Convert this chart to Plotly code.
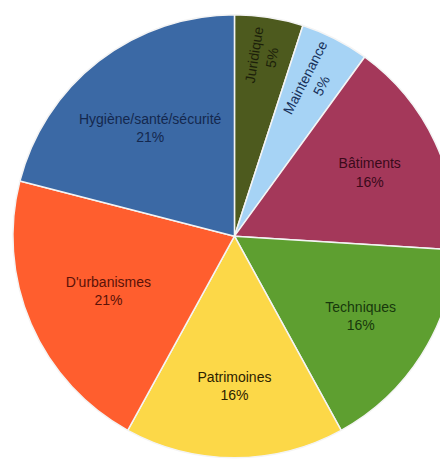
import plotly.graph_objects as go

labels = ["Juridique", "Maintenance", "Bâtiments", "Techniques", "Patrimoines",
          "D'urbanismes", "Hygiène/santé/sécurité"]
values = [5, 5, 16, 16, 16, 21, 21]
colors = ["#4d5a1e", "#a6d3f5", "#a4385a", "#5e9f30", "#fcd848", "#ff5e2e", "#3b69a5"]
text_colors = ["#1c1f0a", "#17305a", "#3a0a1a", "#17380c", "#2c2200", "#5a1208", "#14284e"]

fig = go.Figure(go.Pie(
    labels=labels,
    values=values,
    sort=False,
    direction="clockwise",
    rotation=0,
    marker=dict(colors=colors, line=dict(color="#f4f4f4", width=1.5)),
    texttemplate="%{label}<br>%{percent:.0%}",
    textposition="inside",
    insidetextorientation="auto",
    textfont=dict(family="Liberation Sans Narrow, Liberation Sans, Arial", size=14, color=text_colors),
    hoverinfo="skip",
    showlegend=False,
    domain=dict(x=[0.011, 1.0], y=[0.04, 0.987]),
))

fig.update_layout(
    width=448, height=469,
    margin=dict(l=0, r=0, t=0, b=0),
    paper_bgcolor="white",
    plot_bgcolor="white",
    uniformtext=dict(minsize=10),
)

fig.write_html("out.html")
